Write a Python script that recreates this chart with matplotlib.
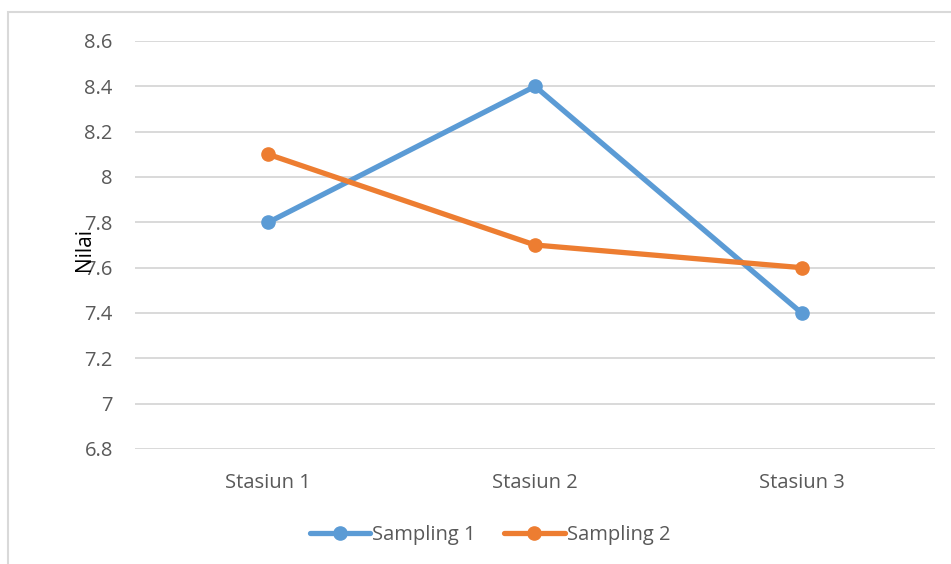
import matplotlib.pyplot as plt
from matplotlib.patches import Rectangle

stations = ["Stasiun 1", "Stasiun 2", "Stasiun 3"]
sampling_1 = [7.8, 8.4, 7.4]
sampling_2 = [8.1, 7.7, 7.6]
y_ticks = [6.8, 7, 7.2, 7.4, 7.6, 7.8, 8, 8.2, 8.4, 8.6]
y_labels = ["6.8", "7", "7.2", "7.4", "7.6", "7.8", "8", "8.2", "8.4", "8.6"]

plt.rcParams["font.family"] = ["Open Sans", "DejaVu Sans"]
grey = "#595959"

fig = plt.figure(figsize=(9.51, 5.64), dpi=100)
ax = fig.add_axes([135 / 951, 1 - 449 / 564, 800 / 951, 408 / 564])

# chart frame (runs off the right and bottom edge in the reference)
fig.patches.append(Rectangle((8 / 951, -0.1), 1.2, 1.1 - 12 / 564,
                             transform=fig.transFigure, fill=False,
                             edgecolor="#D9D9D9", linewidth=1.5, zorder=0))

x = range(len(stations))
ax.plot(x, sampling_1, color="#5B9BD5", linewidth=3.8, marker="o",
        markersize=9.5, label="Sampling 1", zorder=3, solid_capstyle="round")
ax.plot(x, sampling_2, color="#ED7D31", linewidth=3.8, marker="o",
        markersize=9.5, label="Sampling 2", zorder=3, solid_capstyle="round")

ax.set_xlim(-0.5, 2.5)
ax.set_ylim(6.8, 8.6)
ax.set_xticks(list(x))
ax.set_xticklabels(stations)
ax.set_yticks(y_ticks)
ax.set_yticklabels(y_labels)
ax.tick_params(axis="both", length=0, labelsize=14.5, labelcolor=grey)
ax.tick_params(axis="y", pad=16)
ax.tick_params(axis="x", pad=17)
ax.grid(axis="y", color="#D9D9D9", linewidth=1.4)
ax.set_axisbelow(True)
for s in ax.spines.values():
    s.set_visible(False)

ax.set_ylabel("Nilai", fontsize=15, color="black")
ax.yaxis.set_label_coords(-40 / 800, 0.488)

fig.legend(loc="center", bbox_to_anchor=(490 / 951, 1 - 535 / 564), ncol=2,
           frameon=False, fontsize=14.5, labelcolor=grey, handlelength=3.0,
           handletextpad=0.1, columnspacing=1.4)

plt.savefig("out.png", dpi=100)
